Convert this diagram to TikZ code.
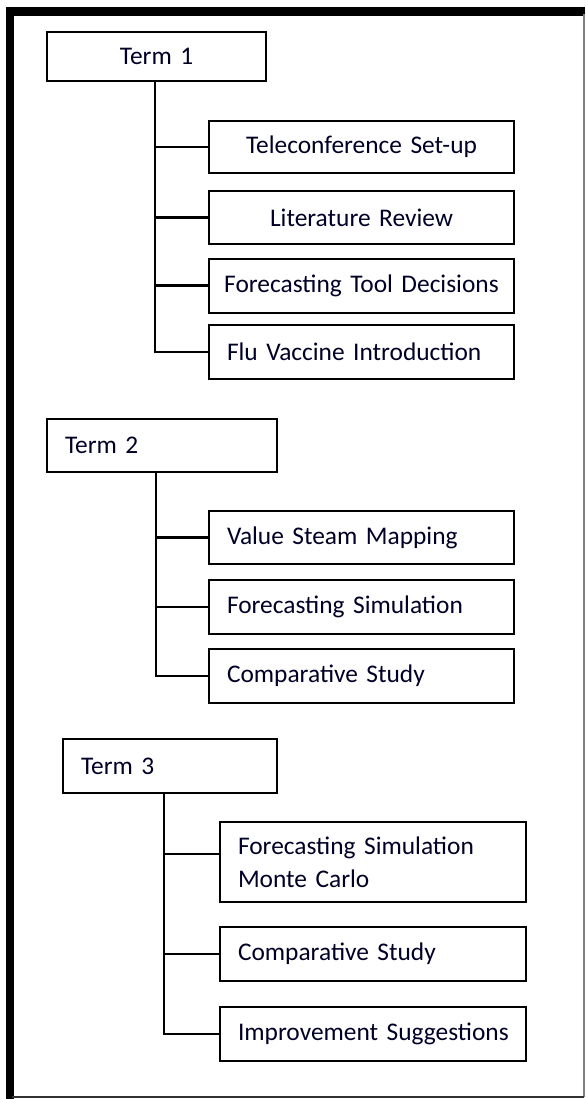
\documentclass[tikz,border=0pt]{standalone}
\usepackage{fontspec}
\setmainfont[WordSpace=0.65]{Carlito}
\begin{document}
\hyphenpenalty=10000
\begin{tikzpicture}[x=0.5pt,y=-0.5pt,
  box/.style={draw=black, line width=1pt, rectangle, inner xsep=0pt, inner ysep=0pt,
    outer sep=0pt, font=\fontsize{12.7}{16.5}\selectfont, text=black!85!blue},
  cbox/.style={box, align=center, text width=#1},
  lbox/.style={box, align=left, inner xsep=9pt, text width=#1},
  link/.style={draw=black, line width=1.1pt}]
\useasboundingbox (0,0) rectangle (585,1099);

% page frame: heavy top and left edges, thin right and bottom edges
\draw[line width=4.25pt, line join=miter] (10,1099) -- (10,11.5) -- (585,11.5);
\draw[gray, line width=1pt] (584,14) -- (584,1097);
\draw[black!80, line width=1pt] (12,1097) -- (584,1097);

% Term 1
\node[cbox=109.5pt, minimum height=24.5pt] (t1) at (156.5,56.5) {Term 1};
\node[cbox=152.5pt, minimum height=26pt]   (tele) at (361.5,147)   {Teleconference Set-up};
\node[cbox=152.5pt, minimum height=26.5pt] (lit)  at (361.5,217.5) {Literature Review};
\node[cbox=152.5pt, minimum height=27pt]   (ftd)  at (361.5,285.5) {Forecasting Tool Decisions};
\node[lbox=134.5pt, minimum height=27pt]   (flu)  at (361.5,352)   {Flu Vaccine Introduction};

\coordinate (t1r) at (155,81);
\draw[link] (t1r) |- (tele.west);
\draw[link] (t1r) |- (lit.west);
\draw[link] (t1r) |- (ftd.west);
\draw[link] (t1r) |- (flu.west);

% Term 2
\node[lbox=97pt, minimum height=26.5pt] (t2) at (162,445.5) {Term 2\\[3pt]};
\node[lbox=134.5pt, minimum height=26.5pt] (vsm) at (361.5,537.5) {Value Steam Mapping};
\node[lbox=134.5pt, minimum height=27pt]   (fs)  at (361.5,607)   {Forecasting Simulation};
\node[lbox=134.5pt, minimum height=27pt]   (cs2) at (361.5,676)   {Comparative Study};

\coordinate (t2r) at (156,472);
\draw[link] (t2r) |- (vsm.west);
\draw[link] (t2r) |- (fs.west);
\draw[link] (t2r) |- (cs2.west);

% Term 3
\node[lbox=89pt, minimum height=27pt] (t3) at (170,766) {Term 3\\[3pt]};
\node[lbox=135pt, minimum height=40pt]  (fsmc) at (373,862)  {Forecasting Simulation\\Monte Carlo};
\node[lbox=135pt, minimum height=27pt]  (cs3)  at (373,954)  {Comparative Study};
\node[lbox=135pt, minimum height=27pt]  (imp)  at (373,1034) {\mbox{Improvement Suggestions}};

\coordinate (t3r) at (164,793);
\draw[link] (t3r) |- ([yshift=4pt]fsmc.west);
\draw[link] (t3r) |- (cs3.west);
\draw[link] (t3r) |- (imp.west);
\end{tikzpicture}
\end{document}
